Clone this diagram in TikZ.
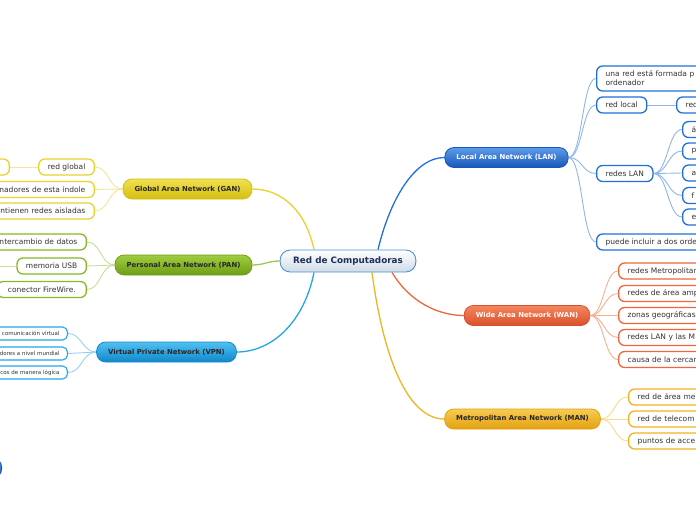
\documentclass[tikz,border=0pt]{standalone}
\usepackage{fontspec}
\setmainfont{DejaVu Sans}
\usetikzlibrary{calc,backgrounds}
\definecolor{txt}{HTML}{333333}
\definecolor{rootB}{HTML}{4A90D0}
\definecolor{rootD}{HTML}{CFDBE6}
\definecolor{rootT}{HTML}{1C2E5A}
\definecolor{lanB}{HTML}{1F6FDC}
\definecolor{lanT}{HTML}{5D9BEA}
\definecolor{lanD}{HTML}{1657BA}
\definecolor{lanC}{HTML}{8DB6EE}
\definecolor{wanB}{HTML}{F0663A}
\definecolor{wanT}{HTML}{F4865E}
\definecolor{wanD}{HTML}{D9502A}
\definecolor{wanC}{HTML}{F8AE92}
\definecolor{manB}{HTML}{F2B320}
\definecolor{manT}{HTML}{F8CC50}
\definecolor{manD}{HTML}{E3A010}
\definecolor{manC}{HTML}{F9D98F}
\definecolor{ganB}{HTML}{E8D22E}
\definecolor{ganT}{HTML}{F0E050}
\definecolor{ganD}{HTML}{D4BE10}
\definecolor{ganC}{HTML}{F3E697}
\definecolor{panB}{HTML}{86B828}
\definecolor{panT}{HTML}{A0CC40}
\definecolor{panD}{HTML}{6E9E14}
\definecolor{panC}{HTML}{C4DE96}
\definecolor{vpnB}{HTML}{22A6E6}
\definecolor{vpnT}{HTML}{50C0F0}
\definecolor{vpnD}{HTML}{1088CC}
\definecolor{vpnC}{HTML}{95D2F2}
\tikzset{
  rootnode/.style={draw=rootB, top color=white, bottom color=rootD, rounded corners=10pt,
    minimum height=22pt, inner xsep=13pt, inner ysep=2pt, line width=0.9pt,
    font=\fontsize{8.8}{10}\selectfont\bfseries, text=rootT},
  branch/.style={rounded corners=9pt, minimum height=20pt, inner xsep=11.5pt, inner ysep=2pt,
    line width=0.8pt, font=\fontsize{6.9}{8}\selectfont\bfseries},
  lanbr/.style={branch, draw=lanD, top color=lanT, bottom color=lanD, text=white},
  wanbr/.style={branch, draw=wanD, top color=wanT, bottom color=wanD, text=white},
  manbr/.style={branch, draw=manD, top color=manT, bottom color=manD, text=black!85},
  ganbr/.style={branch, draw=ganD, top color=ganT, bottom color=ganD, text=black!85},
  panbr/.style={branch, draw=panD, top color=panT, bottom color=panD, text=black!85},
  vpnbr/.style={branch, draw=vpnD, top color=vpnT, bottom color=vpnD, text=black!85},
  child/.style={draw, fill=white, rounded corners=6pt, line width=1.3pt, minimum height=16pt,
    inner xsep=9pt, inner ysep=2pt, font=\fontsize{7.5}{9}\selectfont, text=txt},
  small/.style={child, rounded corners=5pt, line width=1.1pt, minimum height=13pt,
    inner xsep=8pt, font=\fontsize{5.5}{6.5}\selectfont},
  rt/.style={anchor=west, text width=130pt, align=left},
  lt/.style={anchor=east, text width=130pt, align=right},
  link/.style={line width=0.9pt},
  main/.style={line width=1.3pt}
}
\begin{document}
\begin{tikzpicture}[x=1pt,y=-1pt]
\useasboundingbox (0,0) rectangle (696,520);
\clip (0,0) rectangle (696,520);
% root and branches
\node[rootnode] (root) at (348,261) {Red de Computadoras};
\node[lanbr] (lan) at (506.5,157.5) {Local Area Network (LAN)};
\node[wanbr] (wan) at (527,315.5) {Wide Area Network (WAN)};
\node[manbr] (man) at (522.5,419) {Metropolitan Area Network (MAN)};
\node[ganbr] (gan) at (187.5,189) {Global Area Network (GAN)};
\node[panbr] (pan) at (183.5,265) {Personal Area Network (PAN)};
\node[vpnbr] (vpn) at (166.5,352) {Virtual Private Network (VPN)};
\node[lanbr, anchor=east, minimum width=40pt] (extra) at (2,468) {};
% LAN children
\node[child, draw=lanB, rt, minimum height=25pt] (l1) at (596,78.5) {una red está formada p\\ordenador};
\node[child, draw=lanB, anchor=west] (l2) at (596,105) {red local};
\node[child, draw=lanB, rt, text width=60pt] (l2a) at (676,105) {red};
\node[child, draw=lanB, anchor=west] (l3) at (596,173.5) {redes LAN};
\node[child, draw=lanB, rt, text width=40pt] (l3a) at (682,129.5) {á};
\node[child, draw=lanB, rt, text width=40pt] (l3b) at (682,151) {p};
\node[child, draw=lanB, rt, text width=40pt] (l3c) at (682,173) {a};
\node[child, draw=lanB, rt, text width=40pt] (l3d) at (682,195.5) {f};
\node[child, draw=lanB, rt, text width=40pt] (l3e) at (682,217) {e};
\node[child, draw=lanB, rt] (l4) at (596,242) {puede incluir a dos orde};
% WAN children
\node[child, draw=wanB, rt] (w1) at (618,271) {redes Metropolitan};
\node[child, draw=wanB, rt] (w2) at (618,293.5) {redes de área amp};
\node[child, draw=wanB, rt] (w3) at (618,315.5) {zonas geográficas};
\node[child, draw=wanB, rt] (w4) at (618,337.5) {redes LAN y las M};
\node[child, draw=wanB, rt] (w5) at (618,359.5) {causa de la cercan};
% MAN children
\node[child, draw=manB, rt] (m1) at (628,397) {red de área me};
\node[child, draw=manB, rt] (m2) at (628,419) {red de telecom};
\node[child, draw=manB, rt] (m3) at (628,441) {puntos de acce};
% GAN children
\node[child, draw=ganB, anchor=east] (g1) at (95,167) {red global};
\node[child, draw=ganB, anchor=east, minimum width=40pt] (g1a) at (10,167) {};
\node[child, draw=ganB, lt] (g2) at (95,189.5) {nadores de esta índole};
\node[child, draw=ganB, lt] (g3) at (95,211) {ntienen redes aisladas};
% PAN children
\node[child, draw=panB, lt] (p1) at (87,242) {intercambio de datos};
\node[child, draw=panB, anchor=east] (p2) at (87,266) {memoria USB};
\coordinate (p2a) at (-20,266);
\node[child, draw=panB, anchor=east, minimum width=89pt, align=right] (p3) at (87,289.5) {conector FireWire.};
% VPN children
\node[small, draw=vpnB, lt] (v1) at (68,333.5) {comunicación virtual};
\node[small, draw=vpnB, lt] (v2) at (68,353.5) {dores a nivel mundial};
\node[small, draw=vpnB, lt] (v3) at (68,372.5) {cos de manera lógica};
\begin{scope}[on background layer]
% main connectors
\draw[main, lanB] ($(root.north)+(30,0)$) .. controls +(12,-50) and +(-30,0) .. (lan.west);
\draw[main, ganB] ($(root.north)+(-34,0)$) .. controls +(-8,-38) and +(30,0) .. (gan.east);
\draw[main, panB!80] (root.west) .. controls +(-12,0) and +(12,0) .. (pan.east);
\draw[main, vpnB] ($(root.south)+(-34,0)$) .. controls +(-10,50) and +(35,0) .. (vpn.east);
\draw[main, wanB] ($(root.south)+(44,0)$) .. controls +(18,30) and +(-25,0) .. (wan.west);
\draw[main, manB] ($(root.south)+(24,0)$) .. controls +(12,90) and +(-35,0) .. (man.west);
% LAN links
\foreach \c in {l1,l2,l3,l4}
  \draw[link, lanC] (lan.east) .. controls +(14,0) and +(-14,0) .. (\c.west);
\draw[link, lanC] (l2.east) -- (l2a.west);
\foreach \c in {l3a,l3b,l3c,l3d,l3e}
  \draw[link, lanC] (l3.east) .. controls +(14,0) and +(-14,0) .. (\c.west);
% WAN links
\foreach \c in {w1,w2,w3,w4,w5}
  \draw[link, wanC] (wan.east) .. controls +(14,0) and +(-14,0) .. (\c.west);
% MAN links
\foreach \c in {m1,m2,m3}
  \draw[link, manC] (man.east) .. controls +(14,0) and +(-14,0) .. (\c.west);
% GAN links
\foreach \c in {g1,g2,g3}
  \draw[link, ganC] (gan.west) .. controls +(-14,0) and +(14,0) .. (\c.east);
\draw[link, ganC] (g1.west) -- (g1a.east);
% PAN links
\foreach \c in {p1,p2,p3}
  \draw[link, panC] (pan.west) .. controls +(-14,0) and +(14,0) .. (\c.east);
\draw[link, panC] (p2.west) -- (p2a);
% VPN links
\foreach \c in {v1,v2,v3}
  \draw[link, vpnC] (vpn.west) .. controls +(-14,0) and +(14,0) .. (\c.east);
\end{scope}
\end{tikzpicture}
\end{document}
